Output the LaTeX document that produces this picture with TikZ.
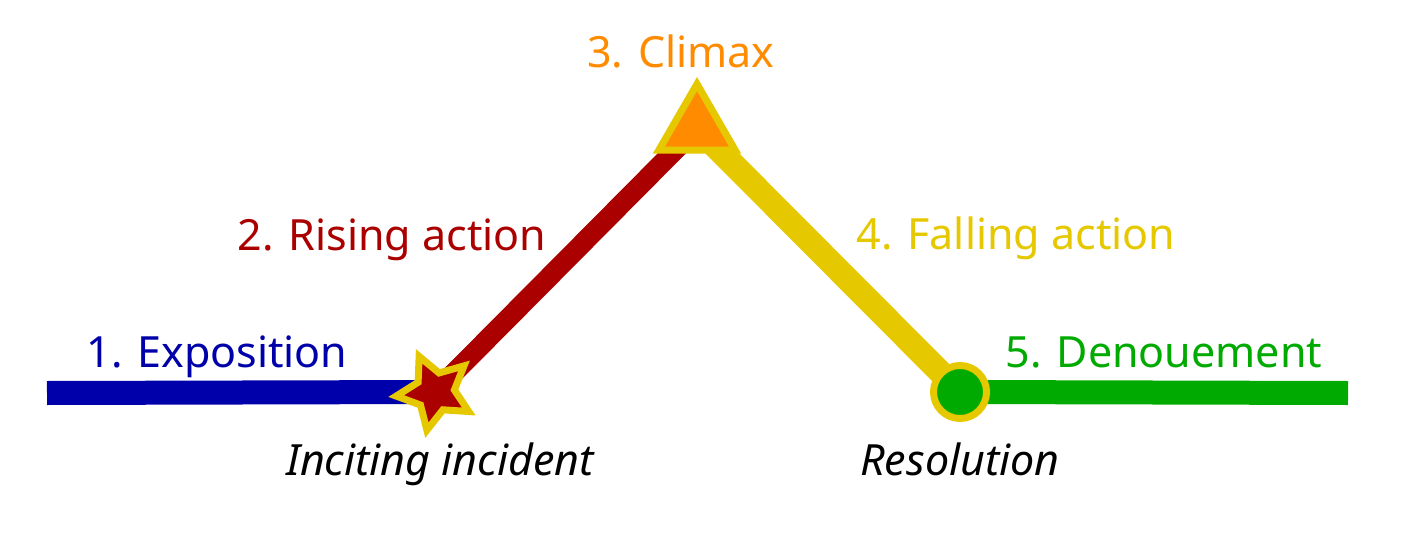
\documentclass[tikz,border=0pt]{standalone}
\usepackage{fontspec}
\setmainfont{Noto Sans}
\usetikzlibrary{shapes.geometric}

\definecolor{expoblue}{RGB}{0,0,170}
\definecolor{risered}{RGB}{170,0,0}
\definecolor{climaxorange}{RGB}{255,140,0}
\definecolor{fallyellow}{RGB}{230,200,0}
\definecolor{denoggreen}{RGB}{0,170,0}

\begin{document}
\begin{tikzpicture}[
        x=0.5pt, y=-0.5pt,
        font=\fontsize{21.5}{26}\selectfont,
        % Styles
        stage/.style={% For the plot lines
            line width=12pt,
            },
        incident/.style={% For the star
            star,
            star points=5,
            star point ratio=2,
            shape border rotate=24,
            minimum size=39pt,
            inner sep=0pt,
            draw=fallyellow,
            line width=3.5pt,
            fill=risered,
            },
        peak/.style={% For the triangle
            regular polygon,
            regular polygon sides=3,
            minimum size=44pt,
            inner sep=0pt,
            draw=fallyellow,
            line width=3.5pt,
            fill=climaxorange,
            },
        resolved/.style={% For the dot
            circle,
            minimum size=26.5pt,
            inner sep=0pt,
            draw=fallyellow,
            line width=3.5pt,
            fill=denoggreen,
            },
        stagelabel/.style={% For the stage names
            anchor=base,
            inner sep=0pt,
            },
        eventlabel/.style={% For the events
            anchor=base,
            inner sep=0pt,
            font=\fontsize{21.5}{26}\selectfont\itshape,
            },
        ]

    \useasboundingbox (0,0) rectangle (1423,556);

    % Points of the plot
        \coordinate (begin) at (47,393);
        \coordinate (ii) at (435,392);
        \coordinate (top) at (697,128);
        \coordinate (res) at (960,392);
        \coordinate (end) at (1348,393);

    % Draw the plot lines
        \draw [stage, expoblue] (begin) -- (ii);
        \draw [stage, risered, line width=10pt] (ii) -- (top);
        \draw [stage, fallyellow] (top) -- (res);
        \draw [stage, denoggreen] (res) -- (end);

    % Draw the markers
        \node [incident] (star) at (ii) {};
        \node [peak] (climax) at (top) {};
        \node [resolved] (dot) at (res) {};

    % Labels
        \node [stagelabel, expoblue] (l1) at (217,367) {1. Exposition};
        \node [stagelabel, risered] (l2) at (392,250) {2. Rising action};
        \node [stagelabel, climaxorange] (l3) at (681,68) {3. Climax};
        \node [stagelabel, fallyellow] (l4) at (1016,249) {4. Falling action};
        \node [stagelabel, denoggreen] (l5) at (1164,367) {5. Denouement};
        \node [eventlabel] (e1) at (440,475) {Inciting incident};
        \node [eventlabel] (e2) at (960,475) {Resolution};

\end{tikzpicture}
\end{document}
